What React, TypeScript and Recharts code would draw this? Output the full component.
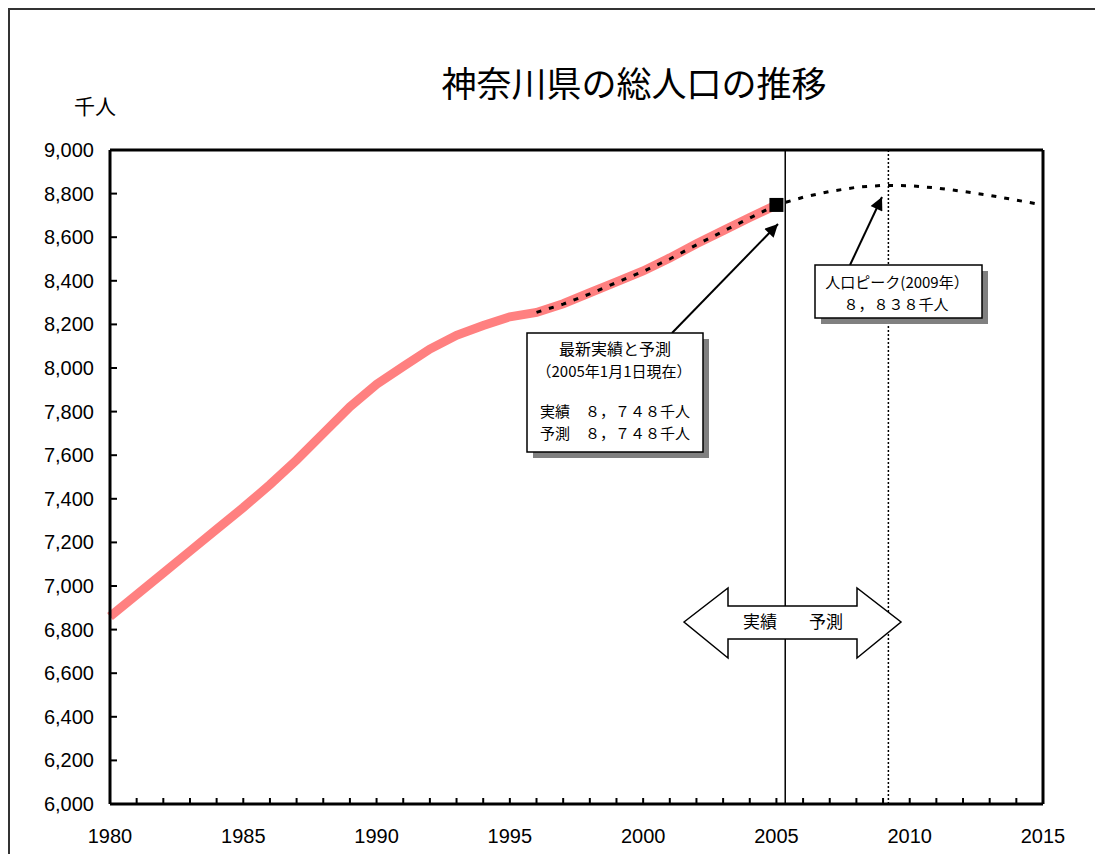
import {
  LineChart, Line, XAxis, YAxis, ReferenceLine, ReferenceDot,
} from 'recharts';

// ─── Data (thousand persons, Jan 1 of each year) ──────────────────────────
const YEARS = [
  1980, 1981, 1982, 1983, 1984, 1985, 1986, 1987, 1988, 1989,
  1990, 1991, 1992, 1993, 1994, 1995, 1996, 1997, 1998, 1999,
  2000, 2001, 2002, 2003, 2004, 2005, 2006, 2007, 2008, 2009,
  2010, 2011, 2012, 2013, 2014, 2015,
];

// 実績 1980–2005
const ACTUAL = [
  6860, 6960, 7060, 7160, 7260, 7360, 7465, 7578, 7700, 7822,
  7925, 8007, 8087, 8150, 8195, 8235, 8255, 8295, 8345, 8395,
  8445, 8505, 8570, 8630, 8690, 8748,
];

// 予測 1996–2015
const FORECAST_START = 1996;
const FORECAST = [
  8255, 8293, 8340, 8392, 8443, 8500, 8565, 8627, 8688, 8748,
  8783, 8810, 8829, 8838, 8836, 8826, 8810, 8792, 8770, 8748,
];

const Y_TICKS = [
  6000, 6200, 6400, 6600, 6800, 7000, 7200, 7400, 7600, 7800,
  8000, 8200, 8400, 8600, 8800, 9000,
];

const BOUNDARY_X = 2005.33; // 実績 / 予測 の境目
const PEAK_X = 2009.2;

const chartData = YEARS.map((year, i) => ({
  year,
  actual: i < ACTUAL.length ? ACTUAL[i] : null,
  forecast: year >= FORECAST_START ? FORECAST[year - FORECAST_START] : null,
}));

const NUM_FONT = '"Liberation Sans", Arial, sans-serif';
const JP_FONT = '"Noto Sans CJK JP", "Liberation Sans", sans-serif';

const fmt = (v: number) => v.toLocaleString('en-US');

// ─── Custom ticks (tick marks point inward) ───────────────────────────────
const XTick = (props: any) => {
  const { x, y, payload } = props;
  return (
    <g>
      <line x1={x} y1={y} x2={x} y2={y - 6} stroke="#000" strokeWidth={2} />
      {payload.value % 5 === 0 && (
        <text x={x} y={y + 32} dy="0.35em" textAnchor="middle" stroke="none"
          fontWeight="normal" fontFamily={NUM_FONT} fontSize={20} fill="#000">
          {payload.value}
        </text>
      )}
    </g>
  );
};

const YTick = (props: any) => {
  const { x, y, payload } = props;
  return (
    <g>
      <line x1={x} y1={y} x2={x + 7} y2={y} stroke="#000" strokeWidth={2} />
      <text x={x - 16} y={y} dy="0.35em" textAnchor="end" stroke="none"
        fontWeight="normal" fontFamily={NUM_FONT} fontSize={20} fill="#000">
        {fmt(payload.value)}
      </text>
    </g>
  );
};

const SquareDot = (props: any) => (
  <rect x={props.cx - 7} y={props.cy - 7} width={14} height={14} fill="#000" />
);

// ─── Annotations overlay (page coordinates) ───────────────────────────────
const Overlay = () => (
  <svg
    width={1090}
    height={844}
    viewBox="10 10 1090 844"
    style={{ position: 'absolute', left: 0, top: 0, pointerEvents: 'none' }}
  >
    <defs>
      <marker id="ah" viewBox="0 0 10 10" refX={10} refY={5}
        markerWidth={18} markerHeight={13} markerUnits="userSpaceOnUse" orient="auto">
        <path d="M0,0 L10,5 L0,10 z" fill="#000" />
      </marker>
    </defs>

    <text x={634} y={85} dy="0.35em" textAnchor="middle" fontFamily={JP_FONT} fontSize={35} fill="#000">
      神奈川県の総人口の推移
    </text>
    <text x={95} y={107} dy="0.35em" textAnchor="middle" fontFamily={JP_FONT} fontSize={21} fill="#000">
      千人
    </text>

    {/* 実績 ⇔ 予測 */}
    <polygon
      points="684,622 728,588 728,606 857,606 857,588 901,622 857,658 857,639 728,639 728,658"
      fill="#fff" stroke="#000" strokeWidth={1.5}
    />
    <text x={760} y={622} dy="0.35em" textAnchor="middle" fontFamily={JP_FONT} fontSize={17}>実績</text>
    <text x={826} y={622} dy="0.35em" textAnchor="middle" fontFamily={JP_FONT} fontSize={17}>予測</text>

    {/* 最新実績と予測 */}
    <line x1={672} y1={333} x2={778} y2={224} stroke="#000" strokeWidth={2} markerEnd="url(#ah)" />
    <rect x={533} y={339} width={176} height={119} fill="#808080" />
    <rect x={527} y={333} width={176} height={119} fill="#fff" stroke="#000" strokeWidth={1.5} />
    <g fontFamily={JP_FONT} fontSize={15} textAnchor="middle" fill="#000">
      <text x={615} y={349} dy="0.35em" fontSize={16}>最新実績と予測</text>
      <text x={614} y={372} dy="0.35em">（2005年1月1日現在）</text>
      <text x={615} y={412} dy="0.35em">実績　８，７４８千人</text>
      <text x={615} y={434} dy="0.35em">予測　８，７４８千人</text>
    </g>

    {/* 人口ピーク */}
    <line x1={850} y1={265} x2={882} y2={197} stroke="#000" strokeWidth={2} markerEnd="url(#ah)" />
    <rect x={821} y={271} width={167} height={53} fill="#808080" />
    <rect x={815} y={265} width={167} height={53} fill="#fff" stroke="#000" strokeWidth={1.5} />
    <g fontFamily={JP_FONT} fontSize={15} textAnchor="middle" fill="#000">
      <text x={897} y={283} dy="0.35em">人口ピーク(2009年）</text>
      <text x={896} y={305} dy="0.35em">８，８３８千人</text>
    </g>
  </svg>
);

export default function App() {
  const last = ACTUAL.length - 1;
  return (
    <div
      style={{
        position: 'relative',
        width: 1090,
        height: 844,
        borderTop: '2px solid #333',
        borderLeft: '2px solid #333',
        overflow: 'hidden',
        background: '#fff',
      }}
    >
      <LineChart width={1090} height={844} data={chartData}
        margin={{ top: 140, right: 57, left: 0, bottom: 0 }}>
        <XAxis
          dataKey="year"
          type="number"
          domain={[1980, 2015]}
          ticks={YEARS}
          interval={0}
          height={50}
          tickSize={0}
          tickMargin={0}
          tick={XTick}
          axisLine={{ stroke: '#000', strokeWidth: 3 }}
          tickLine={false}
        />
        <YAxis
          type="number"
          domain={[6000, 9000]}
          ticks={Y_TICKS}
          interval={0}
          width={100}
          tickSize={0}
          tickMargin={0}
          tick={YTick}
          axisLine={{ stroke: '#000', strokeWidth: 3 }}
          tickLine={false}
        />
        <ReferenceLine y={9000} stroke="#000" strokeWidth={3} />
        <ReferenceLine x={2015} stroke="#000" strokeWidth={3} />
        <ReferenceLine x={BOUNDARY_X} stroke="#000" strokeWidth={1.5} />
        <ReferenceLine x={PEAK_X} stroke="#000" strokeWidth={1.5} strokeDasharray="2 2" />
        <Line
          dataKey="actual"
          stroke="#ff8080"
          strokeWidth={9}
          dot={false}
          activeDot={false}
          isAnimationActive={false}
        />
        <Line
          dataKey="forecast"
          stroke="#000"
          strokeWidth={3}
          strokeDasharray="5 8"
          dot={false}
          activeDot={false}
          isAnimationActive={false}
        />
        <ReferenceDot x={YEARS[last]} y={ACTUAL[last]} r={7} shape={SquareDot} />
      </LineChart>
      <Overlay />
    </div>
  );
}
